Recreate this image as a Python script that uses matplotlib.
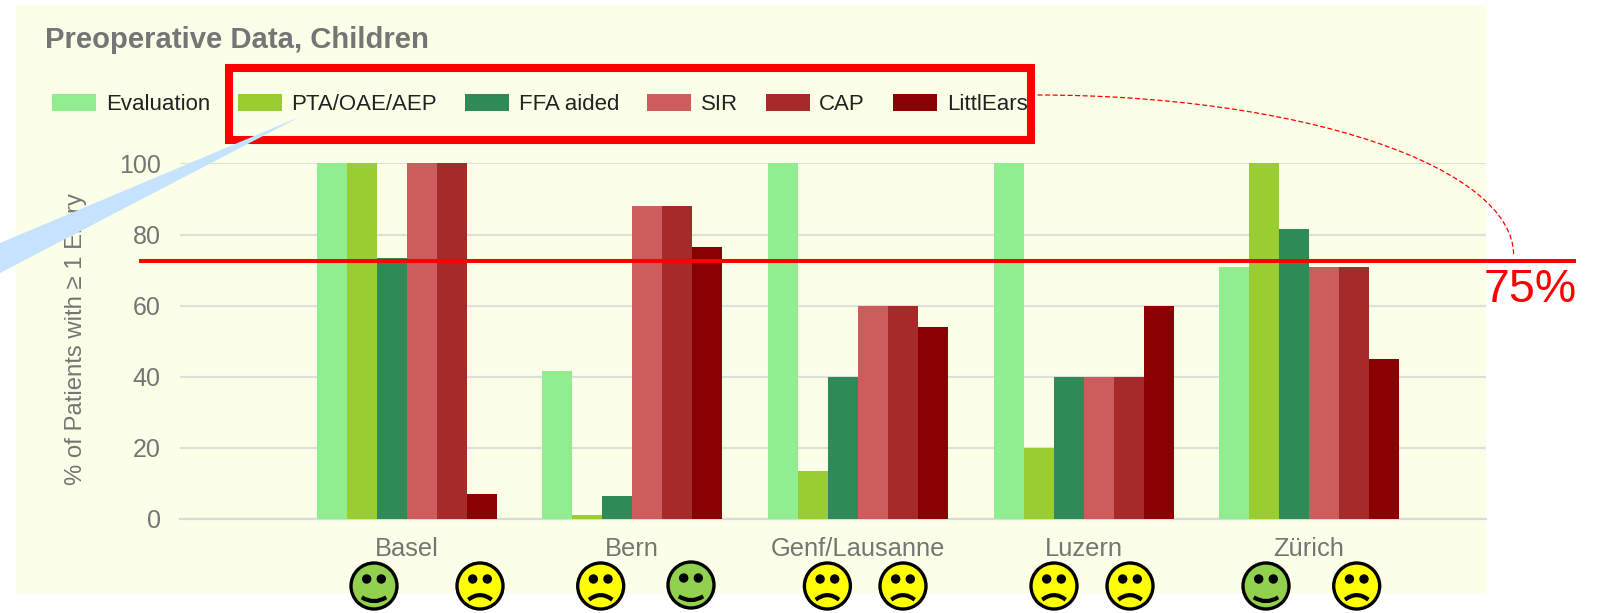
import numpy as np
import matplotlib
matplotlib.use("Agg")
import matplotlib.pyplot as plt
from matplotlib.patches import Rectangle, Polygon, PathPatch, Circle, Arc
from matplotlib.path import Path

# ---- data ----
sites = ["Basel", "Bern", "Genf/Lausanne", "Luzern", "Zürich"]
series_names = ["Evaluation", "PTA/OAE/AEP", "FFA aided", "SIR", "CAP", "LittlEars"]
evaluation = [100, 41.5, 100, 100, 71]
pta = [100, 1, 13.5, 20, 100]
ffa = [73.5, 6.5, 40, 40, 81.5]
sir = [100, 88, 60, 40, 71]
cap = [100, 88, 60, 40, 71]
littlears = [7, 76.5, 54, 60, 45]
series = [evaluation, pta, ffa, sir, cap, littlears]
colors = ["#90EE90", "#9ACD32", "#2E8B57", "#CD5C5C", "#A52A2A", "#8B0000"]
y_ticks = [0, 20, 40, 60, 80, 100]
threshold_label = "75%"
faces = ["happy", "sad", "sad", "happy", "sad", "sad", "sad", "sad", "happy", "sad"]

W, H = 1601, 613
fig = plt.figure(figsize=(W / 100, H / 100), dpi=100, facecolor="white")
plt.rcParams["font.family"] = ["Liberation Sans", "DejaVu Sans"]

# pixel overlay for the slide annotations / panel
def px_axes(z):
    a = fig.add_axes([0, 0, 1, 1], zorder=z)
    a.set_xlim(0, W); a.set_ylim(H, 0); a.axis("off")
    return a

bg = px_axes(0)
bg.add_patch(Rectangle((16, 5), 1470, 588, fc="#FBFFE8", ec="none"))

# chart axes
L, R, T, B = 180, 1486, 163.4, 519
ax = fig.add_axes([L / W, 1 - B / H, (R - L) / W, (B - T) / H], zorder=1)
ax.patch.set_alpha(0)
spacing = 225.6
bar_px = 30
x0_px = 406.7
ax.set_xlim((L - x0_px) / spacing, (R - x0_px) / spacing)
ax.set_ylim(0, 100)
w = bar_px / spacing
xs = np.arange(len(sites))
for i, (name, vals, c) in enumerate(zip(series_names, series, colors)):
    ax.bar(xs + (i - 2.5) * w, vals, w, color=c, label=name, zorder=3, linewidth=0)
ax.set_yticks(y_ticks)
ax.set_xticks(xs, sites)
ax.grid(axis="y", color="#E0E0DA", lw=1.6, zorder=1)
for s in ["top", "right", "left"]:
    ax.spines[s].set_visible(False)
ax.spines["bottom"].set_color("#DCDCD6"); ax.spines["bottom"].set_linewidth(1.6)
ax.tick_params(axis="both", length=0, labelsize=18, labelcolor="#757575")
ax.tick_params(axis="x", pad=13, labelsize=18.4)
ax.tick_params(axis="y", pad=14)
for lab in ax.get_yticklabels():
    lab.set_clip_on(False)

leg = ax.legend(loc="upper left", bbox_to_anchor=(52 / W, 1 - 94 / H), bbox_transform=fig.transFigure,
                ncol=6, frameon=False, fontsize=16, labelcolor="#222222",
                handlelength=1.98, handleheight=0.8, handletextpad=0.44, columnspacing=1.25,
                borderaxespad=0, borderpad=0)

bg.text(45, 40, "Preoperative Data, Children", fontsize=21.1, fontweight="bold", color="#757575",
        ha="left", va="center")
bg.text(76.5, 339, "% of Patients with \u2265 1 Entry", fontsize=17.2, color="#757575", rotation=90,
        ha="center", va="center")

# annotations above everything
ov = px_axes(5)
ov.patch.set_alpha(0)
ov.add_patch(Rectangle((228.5, 68), 802.5, 72, fc="none", ec="#FF0000", lw=5.8, joinstyle="miter", zorder=1))
ov.add_patch(Polygon([(0, 243), (300, 116.7), (0, 273)], closed=True, fc="#C5E2FF", ec="none", zorder=2))
ov.plot([139, 1576], [260.5, 260.5], color="#FF0000", lw=2.9, solid_capstyle="butt", zorder=3)
ov.add_patch(Arc((1037.6, 255), 2 * 476, 2 * 160, theta1=270, theta2=360, ec="#FF0000", lw=0.9,
                 ls=(0, (4, 2)), zorder=3))
ov.text(1530, 290, threshold_label, fontsize=33.5, color="#FF0000", ha="center", va="center")

centers = [(374, 586), (480, 586), (600.7, 586), (691, 585), (827.4, 586),
           (903, 586), (1054, 586), (1130, 586), (1266, 586), (1356.7, 586)]
for (cx, cy), kind in zip(centers, faces):
    happy = kind == "happy"
    ov.add_patch(Circle((cx, cy), 23, fc="#92D050" if happy else "#FFFF00", ec="black", lw=2.4, zorder=4))
    for dx in (-7.3, 7.3):
        ov.add_patch(Circle((cx + dx, cy - 7), 4.7, fc="black", ec="none", zorder=5))
    if happy:
        verts = [(cx - 12.2, cy + 11.3), (cx, cy + 19), (cx + 12.2, cy + 11.3)]
    else:
        verts = [(cx - 11.7, cy + 13.7), (cx, cy + 4.5), (cx + 11.7, cy + 13.7)]
    ov.add_patch(PathPatch(Path(verts, [Path.MOVETO, Path.CURVE3, Path.CURVE3]), fc="none", ec="black",
                           lw=3.0, capstyle="butt", zorder=5))

fig.savefig("out.png", dpi=100, facecolor="white")
